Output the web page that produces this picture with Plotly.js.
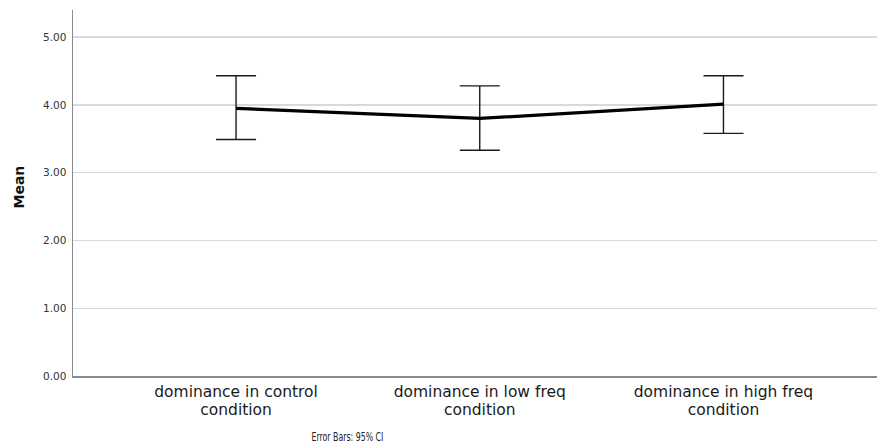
<!DOCTYPE html>
<html>
<head>
<meta charset="utf-8">
<script src="https://cdn.plot.ly/plotly-3.0.1.min.js"></script>
<style>
  html, body { margin: 0; padding: 0; background: #fff; }
  #chart { width: 877px; height: 448px; }
</style>
</head>
<body>
<div id="chart"></div>
<script>
// Mean dominance per condition with 95% confidence intervals
const categories = [
  "dominance in control<br>condition",
  "dominance in low freq<br>condition",
  "dominance in high freq<br>condition"
];
const means = [3.95, 3.80, 4.01];
const ciUpper = [4.43, 4.28, 4.43];
const ciLower = [3.49, 3.33, 3.58];
const yTicks = [0, 1, 2, 3, 4, 5];
const yTickText = ["0.00", "1.00", "2.00", "3.00", "4.00", "5.00"];

const xIdx = categories.map((_, i) => i);

const trace = {
  x: xIdx,
  y: means,
  type: "scatter",
  mode: "lines",
  line: { color: "#000000", width: 3.2 },
  error_y: {
    type: "data",
    symmetric: false,
    array: ciUpper.map((u, i) => u - means[i]),
    arrayminus: means.map((m, i) => m - ciLower[i]),
    color: "#1a1a1a",
    thickness: 1.4,
    width: 20
  },
  hoverinfo: "skip"
};

const layout = {
  width: 877,
  height: 448,
  margin: { l: 73, r: 0, t: 10, b: 72 },
  paper_bgcolor: "#ffffff",
  plot_bgcolor: "#ffffff",
  showlegend: false,
  xaxis: {
    range: [-0.669, 2.63],
    tickvals: xIdx,
    ticktext: categories,
    showgrid: false,
    zeroline: false,
    showline: true,
    linecolor: "#8a8a8a",
    linewidth: 1.5,
    ticks: "",
    ticklabelstandoff: 1,
    tickfont: { family: "DejaVu Sans, sans-serif", size: 15.5, color: "#1a1a1a" },
    fixedrange: true
  },
  yaxis: {
    range: [0, 5.4],
    tickvals: yTicks,
    ticktext: yTickText,
    showgrid: true,
    gridcolor: "#d9d9d9",
    gridwidth: 1.3,
    zeroline: false,
    showline: true,
    linecolor: "#8a8a8a",
    linewidth: 1.5,
    ticks: "",
    ticklabelstandoff: 3,
    tickfont: { family: "DejaVu Sans, sans-serif", size: 10.5, color: "#333333" },
    fixedrange: true
  },
  annotations: [
    {
      text: "<b>Mean</b>",
      xref: "paper",
      yref: "paper",
      x: (18.5 - 73) / 804,
      y: (376 - 187) / 366,
      xanchor: "center",
      yanchor: "middle",
      textangle: -90,
      showarrow: false,
      font: { family: "DejaVu Sans, sans-serif", size: 14, color: "#111111" }
    },
    {
      text: "Error Bars: 95% CI",
      xref: "paper",
      yref: "paper",
      x: (347 - 73) / 804,
      y: 0,
      yshift: -61,
      xanchor: "center",
      yanchor: "middle",
      showarrow: false,
      font: { family: "DejaVu Sans Condensed, sans-serif", size: 11.5, color: "#222222" }
    }
  ]
};

Plotly.newPlot("chart", [trace], layout, { staticPlot: true, displayModeBar: false }).then(() => {
  // slightly tighter line spacing for the two-line category labels
  document.querySelectorAll(".xtick text tspan.line").forEach((t) => {
    if (t.getAttribute("dy") && t.getAttribute("dy") !== "0em") t.setAttribute("dy", "1.18em");
  });
  // narrow footnote text
  document.querySelectorAll(".annotation-text-g text.annotation-text").forEach((t) => {
    if (t.textContent.indexOf("Error Bars") === 0) {
      t.setAttribute("textLength", "72");
      t.setAttribute("lengthAdjust", "spacingAndGlyphs");
    }
  });
});
</script>
</body>
</html>
